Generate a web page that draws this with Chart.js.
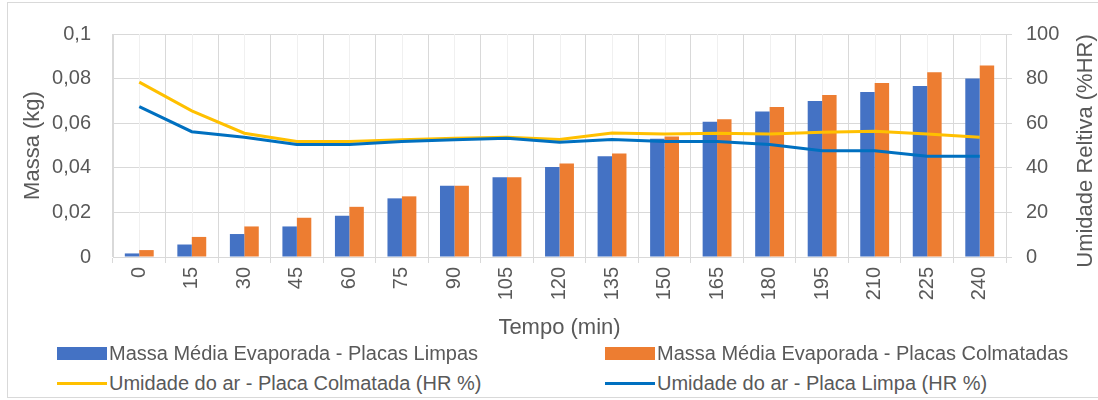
<!DOCTYPE html>
<html>
<head>
<meta charset="utf-8">
<script src="https://cdn.jsdelivr.net/npm/chart.js@4"></script>
<style>
  body { margin: 0; background: #fff; font-family: "Liberation Sans", Arial, sans-serif; }
  #wrap { position: relative; width: 1098px; height: 400px; overflow: hidden; }
  #frame { position: absolute; left: 7px; top: 2px; width: 1100px; height: 394px; border: 1px solid #d9d9d9; }
  canvas { position: absolute; left: 0; top: 0; }
  .leg { position: absolute; display: flex; align-items: center; font-size: 20px; color: #595959; white-space: nowrap; }
  .box { width: 50px; height: 13px; margin-right: 2px; }
  .ln { width: 50px; height: 3px; margin-right: 2px; }
</style>
</head>
<body>
<div id="wrap">
  <div id="frame"></div>
  <canvas id="chart" width="1098" height="345"></canvas>
  <div id="legend"></div>
</div>
<script>
const categories = ["0", "15", "30", "45", "60", "75", "90", "105", "120", "135", "150", "165", "180", "195", "210", "225", "240"];
const massaLimpas = [0.0016, 0.0056, 0.0103, 0.0137, 0.0185, 0.0263, 0.0319, 0.0358, 0.0404, 0.0452, 0.053, 0.0607, 0.0652, 0.0699, 0.074, 0.0767, 0.080];
const massaColmatadas = [0.0031, 0.009, 0.0137, 0.0176, 0.0225, 0.0272, 0.0319, 0.0358, 0.0419, 0.0464, 0.054, 0.0618, 0.0673, 0.0727, 0.078, 0.0828, 0.0859];
const umidadeColmatada = [78.4, 65.5, 55.5, 51.8, 51.8, 52.6, 53.3, 53.7, 52.7, 55.6, 55.2, 55.5, 55.2, 55.9, 56.4, 55.2, 53.7];
const umidadeLimpa = [67.4, 56.2, 53.7, 50.5, 50.5, 51.8, 52.6, 53.3, 51.5, 52.7, 51.8, 51.8, 50.4, 47.6, 47.6, 45.2, 45.2];

const textColor = "#595959";
const gridColor = "#d9d9d9";
const fontFamily = "'Liberation Sans', Arial, sans-serif";

const legendItems = [
  { label: "Massa Média Evaporada - Placas Limpas", color: "#4472c4", type: "box", x: 57, y: 353 },
  { label: "Massa Média Evaporada - Placas Colmatadas", color: "#ed7d31", type: "box", x: 605, y: 353 },
  { label: "Umidade do ar - Placa Colmatada (HR %)", color: "#ffc000", type: "ln", x: 57, y: 383 },
  { label: "Umidade do ar - Placa Limpa (HR %)", color: "#0070c0", type: "ln", x: 605, y: 383 }
];

// lighter lines through the middle of each category
const centerLines = {
  id: "centerLines",
  beforeDatasetsDraw(chart) {
    const { ctx, chartArea } = chart;
    const x = chart.scales.x;
    ctx.save();
    ctx.strokeStyle = "#f0f0f0";
    ctx.lineWidth = 1;
    categories.forEach((c, i) => {
      const px = Math.round(x.getPixelForValue(i)) + 0.5;
      ctx.beginPath();
      ctx.moveTo(px, chartArea.top);
      ctx.lineTo(px, chartArea.bottom);
      ctx.stroke();
    });
    ctx.restore();
  }
};

// right axis title reads bottom to top, like in the original
const rightTitle = {
  id: "rightTitle",
  afterDraw(chart) {
    const { ctx } = chart;
    ctx.save();
    ctx.translate(1086, 151);
    ctx.rotate(-Math.PI / 2);
    ctx.fillStyle = textColor;
    ctx.font = "22px " + fontFamily;
    ctx.textAlign = "center";
    ctx.textBaseline = "middle";
    ctx.fillText("Umidade Reltiva (%HR)", 0, 0);
    ctx.restore();
  }
};

const ctx = document.getElementById("chart").getContext("2d");

new Chart(ctx, {
  type: "bar",
  data: {
    labels: categories,
    datasets: [
      {
        type: "line",
        label: "Umidade do ar - Placa Colmatada (HR %)",
        data: umidadeColmatada,
        yAxisID: "y1",
        borderColor: "#ffc000",
        borderWidth: 3,
        pointRadius: 0,
        order: 1
      },
      {
        type: "line",
        label: "Umidade do ar - Placa Limpa (HR %)",
        data: umidadeLimpa,
        yAxisID: "y1",
        borderColor: "#0070c0",
        borderWidth: 3,
        pointRadius: 0,
        order: 0
      },
      {
        label: "Massa Média Evaporada - Placas Limpas",
        data: massaLimpas,
        backgroundColor: "#4472c4",
        categoryPercentage: 0.55,
        barPercentage: 1,
        order: 2
      },
      {
        label: "Massa Média Evaporada - Placas Colmatadas",
        data: massaColmatadas,
        backgroundColor: "#ed7d31",
        categoryPercentage: 0.55,
        barPercentage: 1,
        order: 2
      }
    ]
  },
  options: {
    responsive: false,
    animation: false,
    layout: { padding: { left: 8, top: 30, right: 0, bottom: 0 } },
    plugins: {
      legend: { display: false },
      tooltip: { enabled: false }
    },
    scales: {
      x: {
        offset: true,
        grid: { offset: true, color: gridColor, tickLength: 6 },
        border: { color: gridColor },
        ticks: {
          color: textColor,
          font: { size: 20, family: fontFamily },
          minRotation: 90,
          maxRotation: 90,
          padding: 4
        },
        title: {
          display: true,
          text: "Tempo (min)",
          color: textColor,
          font: { size: 22, family: fontFamily },
          padding: { top: 4, bottom: 4 }
        },
        afterFit: (scale) => { scale.height = 88; }
      },
      y: {
        position: "left",
        min: 0,
        max: 0.1,
        grid: { color: gridColor, drawTicks: false },
        border: { color: gridColor },
        ticks: {
          stepSize: 0.02,
          color: textColor,
          padding: 22,
          font: { size: 20, family: fontFamily },
          callback: (v) => String(Number(v.toFixed(2))).replace(".", ",")
        },
        title: {
          display: true,
          text: "Massa (kg)",
          color: textColor,
          font: { size: 22, family: fontFamily },
          padding: { top: 12, bottom: 0 }
        },
        afterFit: (scale) => { scale.width = 105; }
      },
      y1: {
        position: "right",
        min: 0,
        max: 100,
        grid: { drawOnChartArea: false, color: gridColor, tickLength: 6 },
        border: { color: gridColor },
        ticks: {
          stepSize: 20,
          color: textColor,
          padding: 14,
          font: { size: 20, family: fontFamily }
        },
        afterFit: (scale) => { scale.width = 92; }
      }
    }
  },
  plugins: [centerLines, rightTitle]
});

const legend = document.getElementById("legend");
legendItems.forEach((item) => {
  const el = document.createElement("div");
  el.className = "leg";
  el.style.left = item.x + "px";
  el.style.top = (item.y - 12) + "px";
  el.style.height = "24px";
  const mark = document.createElement("span");
  mark.className = item.type;
  mark.style.background = item.color;
  el.appendChild(mark);
  el.appendChild(document.createTextNode(item.label));
  legend.appendChild(el);
});
</script>
</body>
</html>
